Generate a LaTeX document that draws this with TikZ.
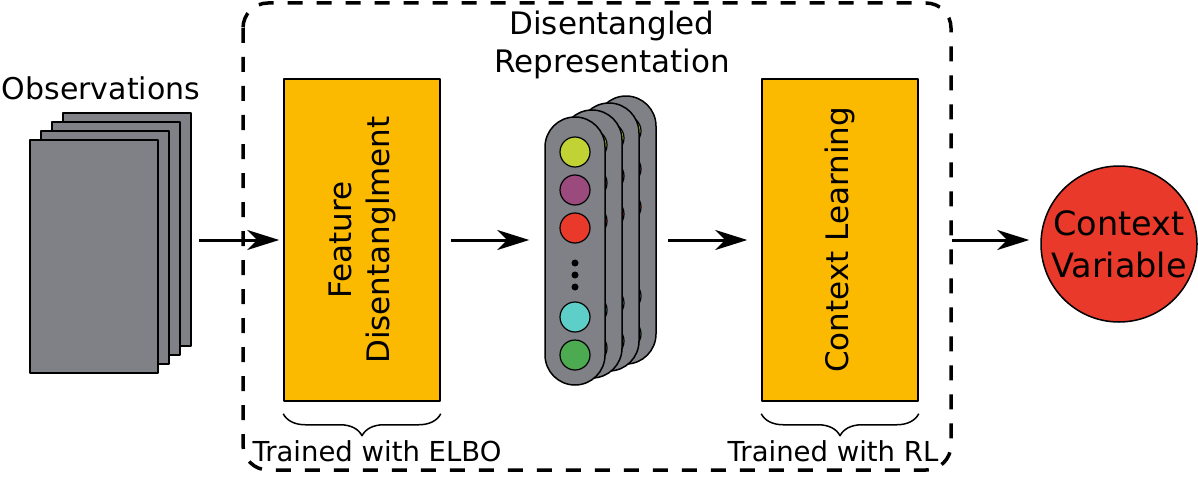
\documentclass[tikz,border=0pt]{standalone}
\usepackage{fontspec}
\setmainfont{DejaVu Sans}
\usetikzlibrary{arrows.meta,decorations.pathreplacing}
\definecolor{sheetgray}{RGB}{128,129,134}
\definecolor{stageorange}{RGB}{251,185,0}
\definecolor{varred}{RGB}{232,57,42}
\definecolor{featlime}{RGB}{192,210,52}
\definecolor{featplum}{RGB}{155,74,126}
\definecolor{featred}{RGB}{232,57,42}
\definecolor{featcyan}{RGB}{94,206,200}
\definecolor{featgreen}{RGB}{76,170,80}
\tikzset{
  sheet/.style={draw, line width=2pt, fill=sheetgray, minimum width=128pt, minimum height=233pt, inner sep=0pt},
  stage/.style={draw, line width=1.5pt, fill=stageorange, minimum width=156pt, minimum height=322pt, inner sep=0pt},
  pill/.style={draw, line width=1.5pt, fill=sheetgray, rounded corners=30pt, minimum width=60pt, minimum height=268pt, inner sep=0pt},
  unit/.style={circle, draw, line width=1.2pt, minimum size=30pt, inner sep=0pt},
  flow/.style={-{Stealth[length=32pt,width=20pt,inset=10pt]}, line width=3pt},
  bigtext/.style={font=\fontsize{31}{38}\selectfont, align=center},
  smalltext/.style={font=\fontsize{27.5}{30}\selectfont},
  trainbrace/.style={decorate, decoration={brace, mirror, amplitude=22pt}, line width=1.5pt}
}
\begin{document}
\begin{tikzpicture}[x=1pt,y=-1pt,line join=round]
  \useasboundingbox (0,0) rectangle (1198,476);

  \draw[line width=3.5pt, dash pattern=on 15pt off 14pt, rounded corners=25pt] (243,3) rectangle (951,470);

  \node[bigtext, font=\fontsize{30}{38}\selectfont] (obslabel) at (101,88) {Observations};
  \foreach \k in {3,2,1,0}
    \node[sheet] (obs\k) at ({94+11*\k},{256.5-9*\k}) {};

  \node[stage] (feat) at (362,240) {};
  \node[bigtext, rotate=90] (featlabel) at (feat.center) {Feature\\Disentanglment};
  \node[stage] (ctx) at (840,240) {};
  \node[bigtext, rotate=90] (ctxlabel) at (ctx.center) {Context Learning};

  \node[bigtext] (replabel) at (612,45) {Disentangled\\Representation};
  \foreach \k in {3,2,1,0} {
    \node[pill] (pill\k) at ({575+17*\k},{251-7*\k}) {};
    \foreach \c/\dy [count=\j] in {featlime/-99,featplum/-61,featred/-23,featcyan/66,featgreen/104}
      \node[unit, fill=\c] (unit\k-\j) at ({575+17*\k},{251-7*\k+\dy}) {};
  }
  \foreach \dy [count=\j] in {12,24,36}
    \fill (575,251+\dy) circle (3.5pt) coordinate (dot\j);

  \node[circle, draw, line width=1.5pt, fill=varred, minimum size=156pt, inner sep=0pt, align=center, font=\fontsize{33.5}{42}\selectfont] (var) at (1119,244) {Context\\Variable};

  \draw[flow, shorten <=7pt, shorten >=4pt] (obs3.east |- feat.west) -- (feat.west);
  \draw[flow, shorten <=10pt, shorten >=15pt] (feat.east) -- (feat.east -| pill0.west);
  \draw[flow, shorten <=11pt, shorten >=14pt] (pill3.east |- ctx.west) -- (ctx.west);
  \draw[flow, shorten <=33pt, shorten >=11pt] (ctx.east) -- (ctx.east -| var.west);

  \draw[trainbrace] ([yshift=-12pt]feat.south west) -- ([yshift=-12pt]feat.south east) node[midway, yshift=-37pt, xshift=15pt, smalltext] (elbo) {Trained with ELBO};
  \draw[trainbrace] ([yshift=-12pt]ctx.south west) -- ([yshift=-12pt]ctx.south east) node[midway, yshift=-37pt, xshift=-7pt, smalltext] (rl) {Trained with RL};
\end{tikzpicture}
\end{document}
